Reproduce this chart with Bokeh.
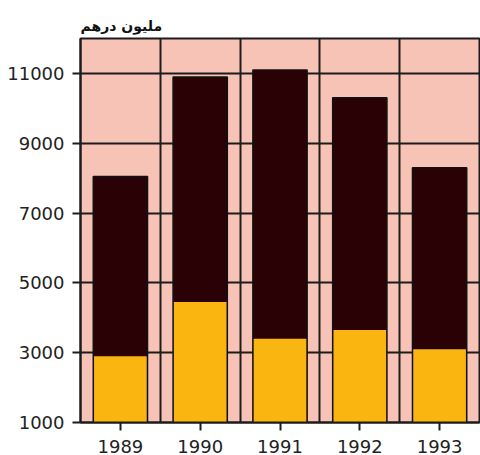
from bokeh.plotting import figure
from bokeh.models import FixedTicker, Range1d, ColumnDataSource
from bokeh.embed import file_html
from bokeh.resources import INLINE

categories = ["1989", "1990", "1991", "1992", "1993"]
totals = [8050, 10900, 11100, 10300, 8300]
lower = [2900, 4450, 3400, 3650, 3100]
y_ticks = [1000, 3000, 5000, 7000, 9000, 11000]
title_text = "مليون درهم"

xs = [i + 0.5 for i in range(len(categories))]
src = ColumnDataSource(dict(x=xs, total=totals, lower=lower, cat=categories))

p = figure(width=480, height=455, output_backend="svg", toolbar_location=None,
           x_range=Range1d(0, len(categories)), y_range=Range1d(1000, 12000),
           min_border_left=80, min_border_right=1, min_border_top=38, min_border_bottom=0)

p.background_fill_color = "#f7c3b6"
p.border_fill_color = "white"
p.outline_line_color = "#1c1c1c"
p.outline_line_width = 2

p.title.text = title_text
p.title.text_font = "DejaVu Sans"
p.title.text_font_size = "14px"
p.title.text_font_style = "bold"
p.title.align = "left"
p.title.text_color = "#111111"
p.title.standoff = 10

p.vbar(x="x", top="total", bottom=0, width=0.68, source=src,
       fill_color="#2a0104", line_color="#111111", line_width=1.5)
p.vbar(x="x", top="lower", bottom=0, width=0.66, source=src,
       fill_color="#fbb510", line_color=None)

p.xaxis.ticker = FixedTicker(ticks=xs)
p.xaxis.major_label_overrides = {x: c for x, c in zip(xs, categories)}
p.xgrid.ticker = FixedTicker(ticks=list(range(len(categories) + 1)))
p.yaxis.ticker = FixedTicker(ticks=y_ticks)

for g in (p.xgrid, p.ygrid):
    g.grid_line_color = "#1c1c1c"
    g.grid_line_width = 2

for ax in (p.xaxis, p.yaxis):
    ax.axis_line_color = "#1c1c1c"
    ax.axis_line_width = 2
    ax.major_tick_line_color = "#1c1c1c"
    ax.major_tick_line_width = 2
    ax.major_tick_in = 0
    ax.major_tick_out = 8
    ax.minor_tick_line_color = None
    ax.major_label_text_font = "DejaVu Sans"
    ax.major_label_text_font_size = "18px"
    ax.major_label_text_color = "#222222"

p.xaxis.major_label_standoff = 9
p.yaxis.major_label_standoff = 8

open("out.html", "w").write(file_html(p, INLINE))
